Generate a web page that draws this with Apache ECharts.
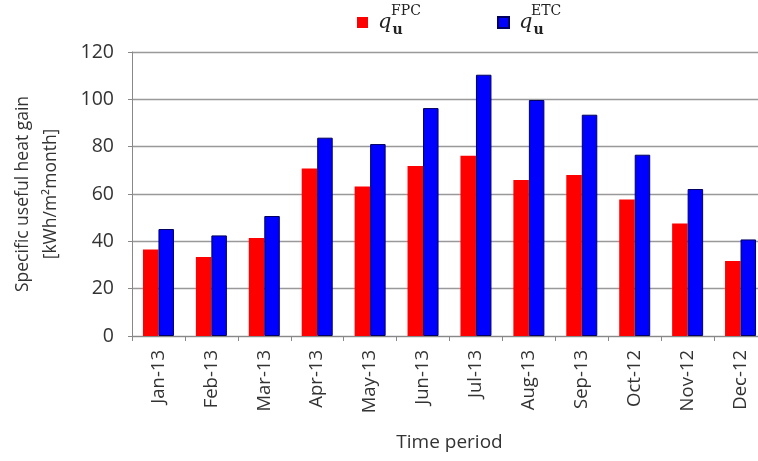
<!DOCTYPE html>
<html>
<head>
<meta charset="utf-8">
<script src="https://cdn.jsdelivr.net/npm/echarts@6/dist/echarts.min.js"></script>
<style>html,body{margin:0;padding:0;background:#fff;overflow:hidden}#c{width:780px;height:461px}</style>
</head>
<body>
<div id="c"></div>
<script>
const categories = ['Jan-13','Feb-13','Mar-13','Apr-13','May-13','Jun-13','Jul-13','Aug-13','Sep-13','Oct-12','Nov-12','Dec-12'];
const qFPC = [36.5, 33.4, 41.4, 70.8, 63.2, 71.8, 76.2, 65.9, 68.0, 57.7, 47.5, 31.7];
const qETC = [45.2, 42.5, 50.7, 83.8, 81.1, 96.3, 110.4, 99.7, 93.5, 76.6, 62.1, 40.8];
const yTicks = [0, 20, 40, 60, 80, 100, 120];
const seriesNames = ['FPC', 'ETC'];

const font = 'Open Sans';
const txt = '#333';
const chart = echarts.init(document.getElementById('c'));
const rich = {
  q: {fontFamily: 'DejaVu Serif', fontStyle: 'italic', fontSize: 21, color: '#222', verticalAlign: 'middle', lineHeight: 30, padding: [0,0,0,5]},
  u: {fontFamily: 'DejaVu Serif', fontWeight: 'bold', fontSize: 14, color: '#222', verticalAlign: 'bottom', lineHeight: 30, padding: [0,0,0,1]}
};
chart.setOption({
  animation: false,
  textStyle: {fontFamily: font},
  legend: [
    {data: [seriesNames[0]], left: 352, top: 7, itemWidth: 11, itemHeight: 11, icon: 'rect',
     formatter: () => '{q|q}{u|u}', textStyle: {rich}},
    {data: [seriesNames[1]], left: 492, top: 7, itemWidth: 11, itemHeight: 11, icon: 'rect',
     formatter: () => '{q|q}{u|u}', textStyle: {rich}}
  ],
  graphic: [
    {type: 'text', left: 391, top: 4, style: {text: seriesNames[0], font: '14px "DejaVu Serif"', fill: '#222'}},
    {type: 'text', left: 531, top: 4, style: {text: seriesNames[1], font: '14px "DejaVu Serif"', fill: '#222'}}
  ],
  grid: {left: 132, top: 52, width: 635, height: 284, containLabel: false},
  xAxis: {
    type: 'category', data: categories,
    name: 'Time period', nameLocation: 'middle', nameGap: 97,
    nameTextStyle: {fontSize: 19, color: txt, fontFamily: font},
    axisLine: {lineStyle: {color: '#888', width: 1}},
    axisTick: {show: true, length: 5, lineStyle: {color: '#888'}},
    axisLabel: {rotate: 90, fontSize: 18.5, color: txt, margin: 14, interval: 0, fontFamily: font}
  },
  yAxis: {
    type: 'value', min: 0, max: 120, interval: 20,
    name: 'Specific useful heat gain\n[kWh/m\u00B2month]', nameLocation: 'middle', nameRotate: 90, nameGap: 67,
    nameTextStyle: {fontSize: 17.5, color: txt, lineHeight: 28, fontFamily: font},
    axisLine: {show: true, lineStyle: {color: '#888', width: 1}},
    axisTick: {show: true, length: 4, lineStyle: {color: '#888'}},
    axisLabel: {fontSize: 19.5, color: txt, margin: 18, fontFamily: font,
      formatter: v => yTicks.includes(v) ? String(v) : ''},
    splitLine: {show: true, lineStyle: {color: '#999', width: 1.3}}
  },
  series: [
    {name: seriesNames[0], type: 'bar', data: qFPC, barWidth: 15.5, barGap: '0%',
     itemStyle: {color: '#ff0000', borderWidth: 0}},
    {name: seriesNames[1], type: 'bar', data: qETC, barWidth: 15.5, barGap: '0%',
     itemStyle: {color: '#0000ff', borderColor: '#000060', borderWidth: 1}}
  ]
});
</script>
</body>
</html>
